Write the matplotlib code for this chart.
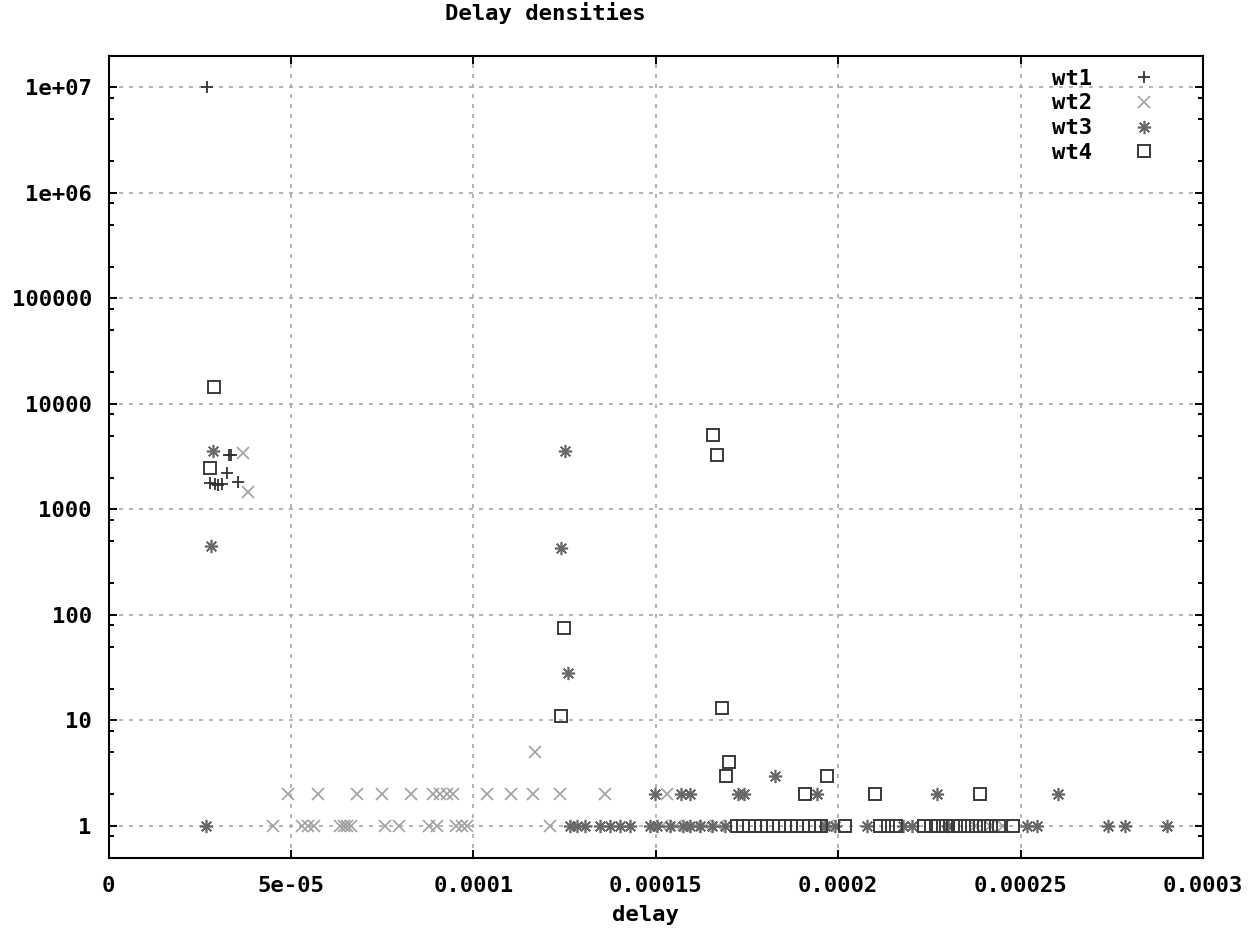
import numpy as np
import matplotlib
matplotlib.use('Agg')
import matplotlib.pyplot as plt
from matplotlib.ticker import LogLocator, MultipleLocator, FuncFormatter, NullFormatter

# delay values in microseconds, densities
wt1_delay = [27.0, 27.8, 29.2, 30.0, 31.1, 32.4, 33.0, 33.6, 35.6]
wt1_dens = [1e7, 1800, 1750, 1700, 1750, 2230, 3250, 3300, 1830]

wt2_delay = [36.9, 38.3, 116.9,
             49.2, 57.4, 68.1, 75.0, 82.9, 88.9, 90.9, 92.8, 94.4, 103.7, 110.3,
             116.4, 123.8, 136.1, 153.1,
             45.1, 53.0, 54.7, 56.3, 63.5, 64.6, 65.4, 66.5, 75.8, 79.6, 87.8,
             90.0, 95.3, 96.9, 98.3, 121.0, 151.7, 155.6, 160.8, 163.5, 167.1,
             197.2, 237.5, 241.6, 245.2]
wt2_dens = [3400, 1470, 5] + [2] * 15 + [1] * 25

wt3_delay = [26.7, 28.1, 28.7, 125.1, 124.0, 125.9, 182.7,
             149.8, 156.9, 159.4, 172.5, 174.2, 194.2, 227.1, 260.3,
             126.5, 128.4, 130.6, 134.7, 137.5, 140.2, 142.9, 148.4, 150.3,
             153.9, 157.5, 159.4, 162.1, 165.4, 169.0, 196.4, 199.1, 207.9,
             217.8, 220.2, 230.1, 251.8, 254.5, 274.0, 278.6, 290.1]
wt3_dens = [1, 450, 3580, 3580, 430, 28, 3] + [2] * 8 + [1] * 26

wt4_delay = [28.9, 27.8, 165.7, 166.8, 124.9, 123.9, 168.1, 170.2, 169.2, 196.9,
             190.9, 210.1, 238.9,
             172.3, 173.9, 175.6, 177.2, 178.9, 180.5, 182.1, 183.8, 185.4, 187.1,
             188.7, 190.4, 192.0, 193.7, 195.3, 201.9, 211.5, 213.7, 215.9, 223.5,
             225.5, 227.4, 229.6, 231.5, 233.4, 235.6, 237.8, 240.0, 241.9, 244.1,
             247.9]
wt4_dens = [14500, 2450, 5080, 3280, 75, 11, 13, 4, 3, 3, 2, 2, 2] + [1] * 31

plt.rcParams['font.family'] = 'DejaVu Sans Mono'
plt.rcParams['font.weight'] = 'bold'
plt.rcParams['font.size'] = 16

W, H = 1254, 934
fig = plt.figure(figsize=(W / 100, H / 100), dpi=100)
left, right, top, bottom = 108.5, 1203, 55.7, 857.7
ax = fig.add_axes([left / W, 1 - bottom / H, (right - left) / W, (bottom - top) / H])

ax.plot(np.array(wt1_delay) * 1e-6, wt1_dens, ls='none', marker='+', ms=8.5, mew=1.3,
        color='#333333', label='wt1')
ax.plot(np.array(wt2_delay) * 1e-6, wt2_dens, ls='none', marker='x', ms=8.5, mew=1.2,
        color='#a0a0a0', label='wt2')
ax.plot(np.array(wt3_delay) * 1e-6, wt3_dens, ls='none', marker=(8, 2, 0), ms=9.5, mew=1.2,
        color='#686868', label='wt3')
ax.plot(np.array(wt4_delay) * 1e-6, wt4_dens, ls='none', marker='s', ms=8, mew=1.4,
        fillstyle='none', color='#3a3a3a', label='wt4')

ax.set_yscale('log')
ax.set_ylim(0.5, 2e7)
ax.set_xlim(0, 3e-4)
ax.xaxis.set_major_locator(MultipleLocator(5e-5))
ax.xaxis.set_major_formatter(FuncFormatter(lambda v, p: '%g' % v))
ax.yaxis.set_major_locator(LogLocator(base=10, numticks=20))
ax.yaxis.set_minor_locator(LogLocator(base=10, subs=[2, 5, 8], numticks=20))
ax.yaxis.set_major_formatter(FuncFormatter(lambda v, p: '%g' % v))
ax.yaxis.set_minor_formatter(NullFormatter())

ax.set_axisbelow(True)
ax.grid(True, which='major', color='#a8a8a8', linestyle=(0, (2.4, 3.6)), linewidth=1.2)
for s in ax.spines.values():
    s.set_linewidth(1.5)
ax.tick_params(which='both', direction='in', top=True, right=True, width=1.4)
ax.tick_params(which='major', length=5.8)
ax.tick_params(which='minor', length=3.6)
ax.tick_params(axis='y', pad=12)
ax.tick_params(axis='x', pad=13)

fig.text(545 / W, 1 - 13 / H, 'Delay densities', ha='center', va='center')
fig.text(645 / W, 1 - 915 / H, 'delay', ha='center', va='center')

ax.legend(loc='upper right', bbox_to_anchor=(0.966, 0.984), markerfirst=False, frameon=False,
          borderaxespad=0, borderpad=0, handletextpad=1.3, handlelength=2, labelspacing=0.22)

fig.savefig('out.png', dpi=100)
